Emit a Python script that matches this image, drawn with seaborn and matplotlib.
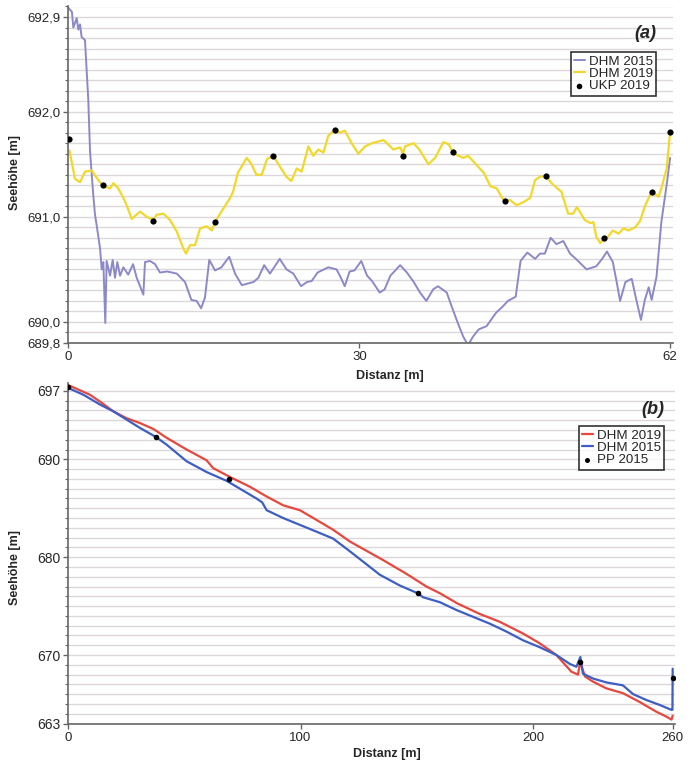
import numpy as np
import pandas as pd
import seaborn as sns
import matplotlib.pyplot as plt

# panel (a) - cross profile
dist_a_2015 = [0.0, 0.4, 0.55, 0.9, 1.06, 1.24, 1.4, 1.75, 2.09, 2.27, 2.6, 2.78, 2.95, 3.3, 3.47, 3.64, 3.84, 3.98,
               4.33, 4.6, 4.84, 5.08, 5.36, 5.7, 6.2, 6.7, 7.07, 7.42, 7.76, 7.93, 8.45, 8.96, 9.47, 10.2, 11.2, 12.05,
               12.7, 13.25, 13.7, 14.1, 14.55, 15.14, 15.8, 16.6, 17.2, 17.9, 19.1, 19.6, 20.2, 20.8, 21.8, 22.5,
               23.2, 24.0, 24.6, 25.1, 25.7, 26.8, 27.65, 28.0, 28.5, 29.0, 29.5, 30.2, 30.8, 31.3, 32.1, 32.6, 33.2,
               34.2, 34.9, 35.6, 36.25, 36.9, 37.6, 38.1, 39.0, 39.5, 40.1, 40.7, 41.2, 41.7, 42.3, 43.1, 44.1, 44.8,
               45.3, 46.1, 46.6, 47.3, 48.1, 48.6, 49.1, 49.7, 50.3, 51.0, 51.7, 52.3, 53.4, 54.4, 55.0, 55.5, 56.1,
               56.5, 56.85, 57.4, 58.05, 58.5, 59.0, 59.4, 59.8, 60.1, 60.6, 61.1, 61.7, 62.0]
elev_a_2015 = [692.99, 692.95, 692.80, 692.89, 692.78, 692.83, 692.71, 692.68, 692.11, 691.62, 691.21, 691.02, 690.92,
               690.70, 690.50, 690.57, 689.99, 690.58, 690.44, 690.59, 690.42, 690.57, 690.44, 690.52, 690.45, 690.55,
               690.42, 690.34, 690.26, 690.57, 690.58, 690.55, 690.47, 690.48, 690.46, 690.38, 690.21, 690.20, 690.13,
               690.23, 690.59, 690.49, 690.52, 690.62, 690.46, 690.35, 690.38, 690.42, 690.54, 690.46, 690.60, 690.50,
               690.46, 690.34, 690.38, 690.39, 690.47, 690.52, 690.50, 690.44, 690.34, 690.48, 690.49, 690.58, 690.44,
               690.39, 690.28, 690.31, 690.44, 690.54, 690.47, 690.38, 690.28, 690.20, 690.31, 690.34, 690.28, 690.15,
               690.00, 689.86, 689.78, 689.86, 689.93, 689.96, 690.09, 690.15, 690.20, 690.24, 690.58, 690.66, 690.60,
               690.65, 690.65, 690.80, 690.74, 690.77, 690.65, 690.60, 690.50, 690.53, 690.60, 690.67, 690.57, 690.38,
               690.20, 690.38, 690.41, 690.22, 690.02, 690.21, 690.33, 690.21, 690.43, 690.95, 691.34, 691.56]

dist_a_2019 = [0.15, 0.72, 1.24, 1.75, 2.44, 2.95, 3.64, 4.33, 4.67, 5.18, 5.7, 6.04, 6.56, 7.42, 8.1, 8.79, 9.13, 9.82,
               10.5, 11.2, 11.87, 12.15, 12.56, 13.08, 13.6, 14.28, 14.8, 15.14, 15.8, 16.7, 17.0, 17.5, 18.4, 18.9,
               19.4, 19.95, 20.5, 21.14, 21.8, 22.5, 23.0, 23.55, 24.06, 24.75, 25.26, 25.78, 26.3, 26.8, 27.5, 28.0,
               28.5, 29.2, 29.9, 30.6, 31.3, 32.5, 33.5, 34.2, 34.5, 34.7, 35.6, 36.25, 37.1, 37.8, 38.65, 39.2, 39.6,
               40.0, 40.7, 41.2, 41.9, 42.8, 43.5, 44.15, 44.7, 45.0, 45.5, 46.2, 46.9, 47.6, 48.1, 48.6, 49.2, 49.8,
               50.5, 50.8, 51.5, 52.0, 52.4, 52.7, 53.2, 53.8, 54.1, 54.4, 54.8, 55.2, 55.6, 56.1, 56.7, 57.2, 57.7,
               58.4, 58.9, 59.4, 60.1, 60.8, 61.1, 61.65, 62.0]
elev_a_2019 = [691.63, 691.36, 691.33, 691.43, 691.44, 691.37, 691.29, 691.27, 691.32, 691.27, 691.18, 691.11, 690.98,
               691.05, 691.00, 690.97, 691.02, 691.03, 690.97, 690.86, 690.70, 690.65, 690.73, 690.73, 690.89, 690.91,
               690.87, 690.95, 691.05, 691.18, 691.24, 691.42, 691.56, 691.50, 691.40, 691.40, 691.55, 691.58, 691.48,
               691.38, 691.34, 691.46, 691.43, 691.67, 691.58, 691.64, 691.61, 691.77, 691.83, 691.80, 691.82, 691.70,
               691.60, 691.67, 691.70, 691.73, 691.64, 691.66, 691.60, 691.67, 691.70, 691.63, 691.50, 691.56, 691.71,
               691.69, 691.62, 691.59, 691.56, 691.58, 691.51, 691.42, 691.29, 691.27, 691.18, 691.15, 691.16, 691.11,
               691.14, 691.18, 691.35, 691.38, 691.39, 691.32, 691.26, 691.24, 691.03, 691.03, 691.09, 691.05, 690.97,
               690.94, 690.95, 690.81, 690.75, 690.79, 690.81, 690.87, 690.84, 690.89, 690.87, 690.90, 690.96, 691.10,
               691.24, 691.19, 691.27, 691.46, 691.81]

ukp_dist = [0.1, 3.6, 8.8, 15.1, 21.1, 27.5, 34.5, 39.6, 45.0, 49.2, 55.2, 60.1, 62.0]
ukp_elev = [691.74, 691.30, 690.96, 690.95, 691.58, 691.83, 691.58, 691.62, 691.15, 691.39, 690.80, 691.24, 691.81]

# panel (b) - long profile
dist_b_2019 = [0, 9.4, 13.75, 19.5, 25.2, 31, 36.7, 42.4, 51, 59.6, 62.4, 69.6, 78.2, 85.4, 92.5, 99.7, 106.9, 114,
               121.2, 135.5, 145.5, 154.1, 160, 167.2, 177, 185.6, 195.6, 202.8, 210, 216.4, 219.3, 220.2, 222.3,
               225.6, 231.4, 238.6, 245.8, 253, 257.3, 259.5, 260]
elev_b_2019 = [697.6, 696.6, 695.9, 694.9, 694.2, 693.7, 693.1, 692.2, 691.0, 689.9, 689.1, 688.2, 687.2, 686.2, 685.3,
               684.8, 683.8, 682.8, 681.6, 679.7, 678.3, 677.0, 676.3, 675.3, 674.2, 673.4, 672.2, 671.2, 670.0, 668.3,
               668.0, 669.3, 667.8, 667.3, 666.6, 666.1, 665.2, 664.2, 663.7, 663.4, 663.8]

dist_b_2015 = [0, 6.6, 13.75, 19.5, 31, 37.7, 42.4, 51, 59.6, 68.2, 73.9, 81, 83.5, 85.4, 92.5, 99.7, 106.9, 114,
               121.2, 134.1, 142.7, 150.5, 152.7, 159.9, 167, 174.2, 181.4, 188.5, 195.7, 202.8, 210, 215.7, 218.6,
               220.3, 221.4, 225.7, 231.5, 238.6, 243, 248.7, 254.4, 259.4, 259.9, 260]
elev_b_2015 = [697.3, 696.6, 695.6, 694.9, 693.2, 692.3, 691.5, 689.8, 688.7, 687.8, 687.0, 686.0, 685.6, 684.8, 684.0,
               683.3, 682.6, 681.9, 680.6, 678.2, 677.1, 676.3, 675.9, 675.4, 674.6, 673.9, 673.2, 672.4, 671.5, 670.8,
               670.0, 669.1, 668.8, 669.8, 668.1, 667.6, 667.2, 666.9, 666.0, 665.4, 664.9, 664.4, 664.4, 668.6]

pp_dist = [0.0, 37.7, 69.3, 150.5, 220.3, 260.0]
pp_elev = [697.4, 692.3, 688.0, 676.3, 669.3, 667.7]

sns.set_style("white")
plt.rcParams['font.family'] = ['Liberation Sans', 'DejaVu Sans']

fig = plt.figure(figsize=(6.97, 7.6), dpi=100)
ax1 = fig.add_axes([68 / 697, 1 - 343 / 760, 605 / 697, 336.5 / 760])
ax2 = fig.add_axes([68 / 697, 1 - 724 / 760, 607 / 697, 341 / 760])

grid_col = '#ddd7d9'
spine_col = '#666666'

# (a)
sns.lineplot(x=dist_a_2015, y=elev_a_2015, ax=ax1, color='#8c89c9', lw=1.4, label='DHM 2015',
             estimator=None, sort=False)
sns.lineplot(x=dist_a_2019, y=elev_a_2019, ax=ax1, color='#f1d82a', lw=1.6, label='DHM 2019',
             estimator=None, sort=False)
sns.scatterplot(x=ukp_dist, y=ukp_elev, ax=ax1, color='black', s=20, linewidth=0, label='UKP 2019', zorder=5)

ax1.set_xlim(0, 62.3)
ax1.set_ylim(689.8, 693.0)
ax1.set_xticks([0, 30, 62])
ax1.set_yticks([689.8, 690.0, 691.0, 692.0, 692.9])
ax1.set_yticklabels(['689,8', '690,0', '691,0', '692,0', '692,9'])
ax1.set_yticks(np.arange(689.9, 693.0, 0.1), minor=True)

# (b)
sns.lineplot(x=dist_b_2019, y=elev_b_2019, ax=ax2, color='#e8473d', lw=1.6, label='DHM 2019',
             estimator=None, sort=False)
sns.lineplot(x=dist_b_2015, y=elev_b_2015, ax=ax2, color='#3d5ec4', lw=1.6, label='DHM 2015',
             estimator=None, sort=False)
sns.scatterplot(x=pp_dist, y=pp_elev, ax=ax2, color='black', s=16, linewidth=0, label='PP 2015', zorder=5)

ax2.set_xlim(0, 261)
ax2.set_ylim(662.95, 697.8)
ax2.set_xticks([0, 100, 200, 260])
ax2.set_yticks([663, 670, 680, 690, 697])
ax2.set_yticks(np.arange(664, 698, 1), minor=True)

for ax, ylab_y, xlab_x, xlab_y, tag, tx, ty, lx, ly in [
        (ax1, 0.508, 0.532, -0.08, '(a)', 0.972, 0.921, 0.972, 0.865),
        (ax2, 0.46, 0.526, -0.07, '(b)', 0.983, 0.921, 0.982, 0.874)]:
    ax.grid(True, which='both', axis='y', color=grid_col, lw=1.0)
    ax.grid(False, axis='x')
    ax.set_axisbelow(True)
    for s in ['top', 'right']:
        ax.spines[s].set_visible(False)
    for s in ['left', 'bottom']:
        ax.spines[s].set_color(spine_col)
        ax.spines[s].set_linewidth(1.2)
    ax.tick_params(axis='both', which='major', direction='out', length=3.5, width=1, color=spine_col,
                   labelsize=9.5, pad=2, left=True, bottom=True)
    ax.tick_params(axis='y', which='minor', direction='out', length=2.5, width=0.8, color=spine_col, left=True)
    ax.set_ylabel('Seehöhe [m]', fontsize=9, fontweight='bold')
    ax.set_xlabel('Distanz [m]', fontsize=9, fontweight='bold')
    ax.yaxis.set_label_coords(-0.078, ylab_y)
    ax.xaxis.set_label_coords(xlab_x, xlab_y)
    ax.text(tx, ty, tag, transform=ax.transAxes, ha='right', va='center',
            fontsize=13, fontweight='bold', fontstyle='italic')
    leg = ax.legend(loc='upper right', bbox_to_anchor=(lx, ly), fontsize=9.6, frameon=True, fancybox=False,
                    edgecolor='black', handlelength=0.8, handletextpad=0.3, borderpad=0.25,
                    labelspacing=0.0, borderaxespad=0, markerscale=0.9)
    leg.get_frame().set_linewidth(1.2)

ax2.tick_params(axis='y', labelsize=10)

fig.savefig('out.png', dpi=100)
